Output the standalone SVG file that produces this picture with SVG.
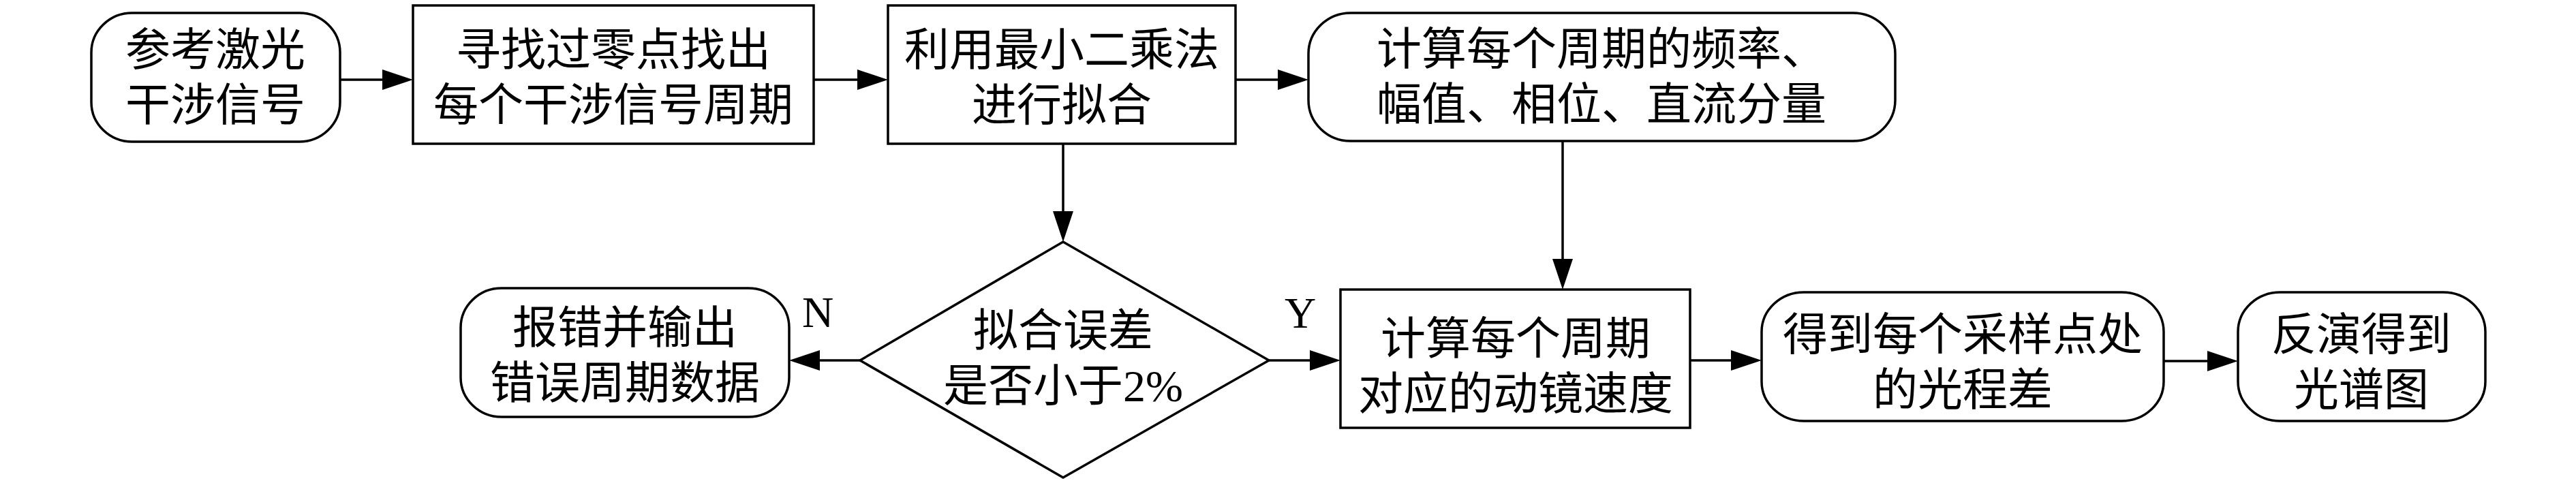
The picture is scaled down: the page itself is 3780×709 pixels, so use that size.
<svg xmlns="http://www.w3.org/2000/svg" width="3780" height="709" viewBox="0 0 3780 709">
<defs>
<style>
.box{fill:#fff;stroke:#000;stroke-width:3.5}
.ln{fill:none;stroke:#000;stroke-width:3.5;marker-end:url(#ah)}
.t{font-family:"Liberation Sans","Noto Sans CJK SC",sans-serif;font-size:66px;fill:#000;text-anchor:middle}
.lat{font-family:"Liberation Serif","Noto Sans CJK SC",serif}
.lbl{font-family:"Liberation Serif",serif;font-size:64px;fill:#000;text-anchor:middle}
</style>
<marker id="ah" markerUnits="userSpaceOnUse" markerWidth="45" markerHeight="30" refX="5" refY="15" orient="auto" viewBox="0 0 45 30">
<path d="M0,0 L45,15 L0,30 Z" fill="#000"/>
</marker>
</defs>
<rect width="3780" height="709" fill="#fff"/>

<g id="connectors">
<line class="ln" x1="499" y1="117" x2="566" y2="117"/>
<line class="ln" x1="1194" y1="117" x2="1263" y2="117"/>
<line class="ln" x1="1813" y1="117" x2="1880" y2="117"/>
<line class="ln" x1="1560" y1="211" x2="1560" y2="315"/>
<line class="ln" x1="2293" y1="207" x2="2293" y2="385"/>
<line class="ln" x1="1262" y1="529" x2="1198" y2="529"/>
<line class="ln" x1="1862" y1="529" x2="1927" y2="529"/>
<line class="ln" x1="2480" y1="529" x2="2545" y2="529"/>
<line class="ln" x1="3175" y1="530" x2="3244" y2="530"/>
<text class="lbl" x="1200" y="480">N</text>
<text class="lbl" x="1908" y="481">Y</text>
</g>

<g id="n1">
<rect class="box" x="134" y="19" width="365" height="189" rx="60" ry="58"/>
<text class="t" x="316" y="96">参考激光</text>
<text class="t" x="316" y="177">干涉信号</text>
</g>

<g id="n2">
<rect class="box" x="606" y="8" width="588" height="203"/>
<text class="t" x="900" y="96">寻找过零点找出</text>
<text class="t" x="900" y="177">每个干涉信号周期</text>
</g>

<g id="n3">
<rect class="box" x="1303" y="8" width="510" height="203"/>
<text class="t" x="1558" y="96">利用最小二乘法</text>
<text class="t" x="1558" y="177">进行拟合</text>
</g>

<g id="n4">
<rect class="box" x="1920" y="19" width="861" height="188" rx="62" ry="60"/>
<text class="t" x="2350" y="95">计算每个周期的频率、</text>
<text class="t" x="2350" y="176">幅值、相位、直流分量</text>
</g>

<g id="n5">
<polygon class="box" points="1560,355 1862,529 1560,701 1262,529"/>
<text class="t" x="1560" y="508">拟合误差</text>
<text class="t" x="1560" y="589">是否小于<tspan class="lat">2%</tspan></text>
</g>

<g id="n6">
<rect class="box" x="676" y="423" width="482" height="189" rx="60" ry="58"/>
<text class="t" x="917" y="504">报错并输出</text>
<text class="t" x="917" y="585">错误周期数据</text>
</g>

<g id="n7">
<rect class="box" x="1967" y="425" width="513" height="203"/>
<text class="t" x="2224" y="520">计算每个周期</text>
<text class="t" x="2224" y="601">对应的动镜速度</text>
</g>

<g id="n8">
<rect class="box" x="2585" y="429" width="590" height="189" rx="62" ry="58"/>
<text class="t" x="2880" y="514">得到每个采样点处</text>
<text class="t" x="2880" y="595">的光程差</text>
</g>

<g id="n9">
<rect class="box" x="3284" y="429" width="363" height="189" rx="62" ry="58"/>
<text class="t" x="3465" y="514">反演得到</text>
<text class="t" x="3465" y="595">光谱图</text>
</g>
</svg>
